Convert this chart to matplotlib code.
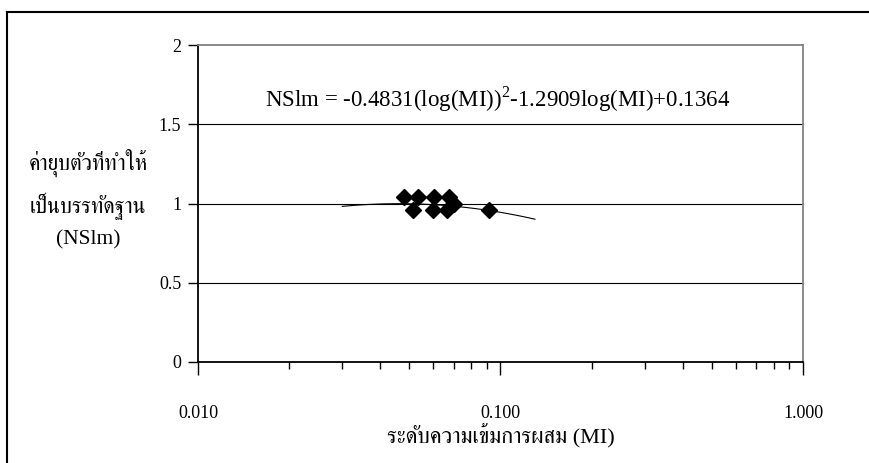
import matplotlib
matplotlib.use("Agg")
import matplotlib.pyplot as plt
import numpy as np
from matplotlib import font_manager
from matplotlib.lines import Line2D
from matplotlib.ticker import FixedLocator, LogLocator, NullFormatter

# Mixing index (MI) and normalised settlement (NSlm) measurements
mi_values = [0.048, 0.0535, 0.0515, 0.0605, 0.0675, 0.060, 0.0665, 0.070, 0.0915]
nslm_values = [1.04, 1.04, 0.96, 1.04, 1.04, 0.96, 0.96, 1.00, 0.96]

# Fitted trend: NSlm = a(log MI)^2 + b log MI + c
fit_a, fit_b, fit_c = -0.4831, -1.2909, 0.1364
fit_range = (0.03, 0.13)

x_ticks = [0.01, 0.1, 1.0]
x_ticklabels = ["0.010", "0.100", "1.000"]
y_ticks = [0, 0.5, 1, 1.5, 2]
y_ticklabels = ["0", "0.5", "1", "1.5", "2"]

x_label = "ระดับความเข้มการผสม (MI)"
y_label = "ค่ายุบตัวที่ทำให้\nเป็นบรรทัดฐาน\n(NSlm)"


def find_thai_font():
    """Return the name of an installed font with Thai glyphs, serif ones first."""
    try:
        from fontTools.ttLib import TTFont
    except ImportError:
        return None
    found = []
    for entry in font_manager.fontManager.ttflist:
        try:
            tt = TTFont(entry.fname, fontNumber=0, lazy=True)
            cmap = tt.getBestCmap()
        except Exception:
            continue
        if cmap and 0x0E01 in cmap and 0x0E49 in cmap:
            found.append(entry.name)
    if not found:
        return None
    for name in found:
        low = name.lower()
        if "serif" in low and "sans" not in low or "norasi" in low:
            return name
    return found[0]


serif = "Liberation Serif"
thai = find_thai_font()
thai_family = [serif, thai] if thai else [serif]
plt.rcParams["font.family"] = [serif]
plt.rcParams["mathtext.fontset"] = "custom"
plt.rcParams["mathtext.rm"] = serif

fig = plt.figure(figsize=(8.7, 4.63), dpi=100)
ax = fig.add_axes([198 / 870, 1 - 362 / 463, (803 - 198) / 870, (362 - 45) / 463])

# Trend curve from the fitted equation
fit_x = np.logspace(np.log10(fit_range[0]), np.log10(fit_range[1]), 100)
lg = np.log10(fit_x)
fit_y = fit_a * lg ** 2 + fit_b * lg + fit_c
ax.plot(fit_x, fit_y, color="black", linewidth=0.8, zorder=3)

ax.plot(mi_values, nslm_values, linestyle="none", marker="D", markersize=8,
        color="black", zorder=4)

ax.set_xscale("log")
ax.set_xlim(0.01, 1.0)
ax.set_ylim(0, 2)

ax.xaxis.set_major_locator(FixedLocator(x_ticks))
ax.set_xticklabels(x_ticklabels)
ax.xaxis.set_minor_locator(LogLocator(base=10, subs=np.arange(2, 10)))
ax.xaxis.set_minor_formatter(NullFormatter())
ax.set_yticks(y_ticks)
ax.set_yticklabels(y_ticklabels)

ax.tick_params(axis="x", which="major", direction="out", length=9, width=1,
               pad=22, labelsize=13)
ax.tick_params(axis="x", which="minor", direction="out", length=5, width=1)
ax.tick_params(axis="y", which="major", direction="out", length=7, width=1,
               pad=5, labelsize=13)

# Horizontal gridlines
for y in y_ticks[1:-1]:
    ax.axhline(y, color="black", linewidth=0.8, zorder=1)

for side in ("left", "bottom"):
    ax.spines[side].set_color("black")
    ax.spines[side].set_linewidth(1.3)
for side in ("top", "right"):
    ax.spines[side].set_color("#808080")
    ax.spines[side].set_linewidth(1.3)

ax.text(0.495, 0.83, r"NSlm = -0.4831(log(MI))$^{2}$-1.2909log(MI)+0.1364",
        transform=ax.transAxes, ha="center", va="center", fontsize=16.5)

ax.set_xlabel(x_label, family=thai_family, fontsize=16, labelpad=1)
fig.text(88 / 870, 1 - 199 / 463, y_label, family=thai_family, fontsize=15.5,
         ha="center", va="center", linespacing=1.75)

# Page frame lines along the top and left edge
fig.add_artist(Line2D([7 / 870, 1.0], [1 - 12 / 463, 1 - 12 / 463],
                      color="black", linewidth=1.5))
fig.add_artist(Line2D([7 / 870, 7 / 870], [0, 1 - 12 / 463],
                      color="black", linewidth=1.5))

fig.savefig("out.png", dpi=100)
